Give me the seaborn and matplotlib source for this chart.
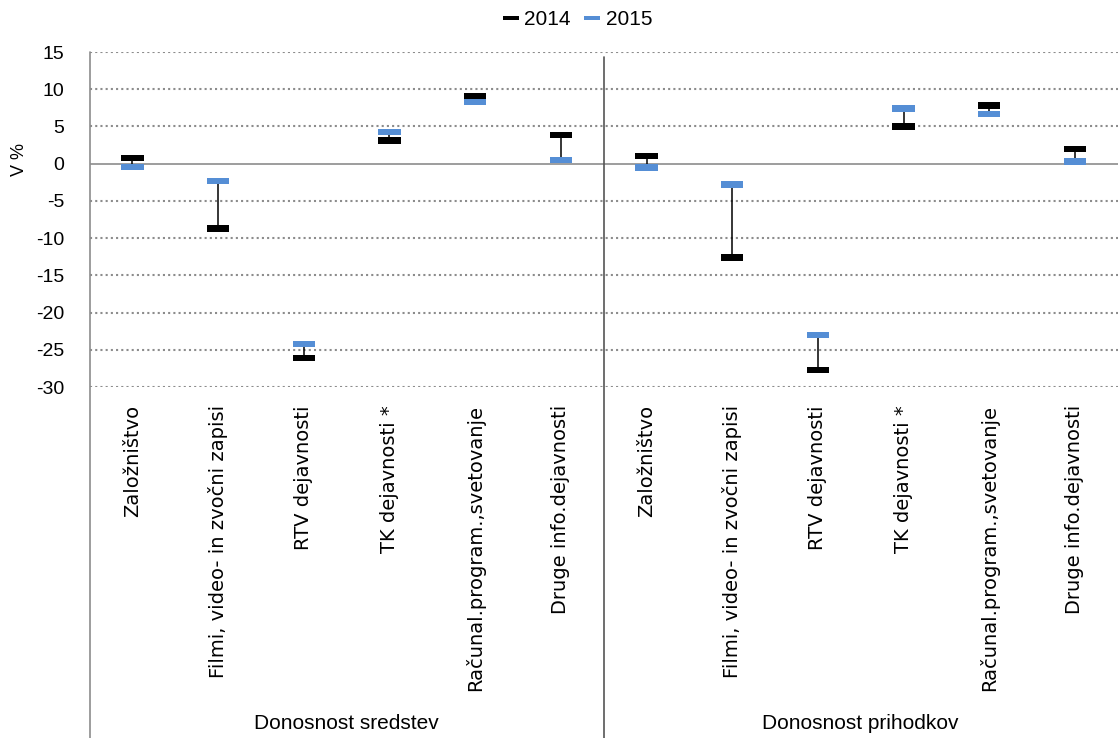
import numpy as np
import pandas as pd
import seaborn as sns
from matplotlib import pyplot as plt
from matplotlib import font_manager
from matplotlib.lines import Line2D

# Podatki
dejavnosti = ["Založništvo", "Filmi, video- in zvočni zapisi", "RTV dejavnosti",
              "TK dejavnosti *", "Računal.program.,svetovanje", "Druge info.dejavnosti"]
skupine = ["Donosnost sredstev", "Donosnost prihodkov"]
leta = ["2014", "2015"]
sredstev_2014 = [0.8, -8.7, -26.1, 3.1, 9.1, 3.9]
sredstev_2015 = [-0.4, -2.3, -24.2, 4.3, 8.3, 0.5]
prihodkov_2014 = [1.0, -12.6, -27.7, 5.0, 7.8, 2.0]
prihodkov_2015 = [-0.5, -2.8, -23.0, 7.4, 6.7, 0.3]

vrednosti_2014 = sredstev_2014 + prihodkov_2014
vrednosti_2015 = sredstev_2015 + prihodkov_2015
oznake = dejavnosti * len(skupine)
pozicije = np.arange(len(oznake))

df = pd.DataFrame({
    "poz": np.concatenate([pozicije, pozicije]),
    "vrednost": vrednosti_2014 + vrednosti_2015,
    "leto": [leta[0]] * len(oznake) + [leta[1]] * len(oznake),
})

sns.set_style("white")
plt.rcParams["font.family"] = ["DejaVu Sans"]
plt.rcParams["axes.unicode_minus"] = False
plt.rcParams["text.color"] = "black"
plt.rcParams["xtick.color"] = "black"
plt.rcParams["ytick.color"] = "black"
plt.rcParams["axes.labelcolor"] = "black"

# ozka pisava, če obstaja
try:
    font_manager.findfont("Liberation Sans Narrow", fallback_to_default=False)
    ozka = "Liberation Sans Narrow"
except Exception:
    ozka = "Liberation Sans"

fig = plt.figure(figsize=(11.2, 7.38), dpi=100)
ax = fig.add_axes([0.080, 0.4756, 0.918, 0.4539])

# Mreža
siva = "#8c8c8c"
for y in range(-30, 16, 5):
    if y == 0:
        ax.axhline(y, color=siva, lw=1.2, zorder=1)
    else:
        ax.axhline(y, color=siva, lw=1.5, ls=(0, (1, 1.5)), zorder=1)

# Navpične črte med letoma
ax.vlines(pozicije, vrednosti_2014, vrednosti_2015, color="black", lw=1.1, zorder=2)

oznaka = [(-1, -0.28), (1, -0.28), (1, 0.28), (-1, 0.28), (-1, -0.28)]
sns.scatterplot(data=df, x="poz", y="vrednost", hue="leto",
                palette={"2014": "black", "2015": "#558ed5"},
                marker=oznaka, s=260, linewidth=0, zorder=3, ax=ax)

ax.set_xlim(-0.5, len(oznake) - 0.5)
ax.set_ylim(-30, 15)
ax.set_yticks(range(-30, 16, 5))
ax.set_xticks(pozicije)
ax.set_xticklabels(oznake, rotation=90, va="top", ha="center", fontsize=14)
for lab in ax.get_yticklabels():
    lab.set_fontfamily(ozka)
    lab.set_fontsize(14)
ax.tick_params(axis="both", length=0)
ax.tick_params(axis="y", pad=18)
ax.tick_params(axis="x", pad=13)
for s in ax.spines.values():
    s.set_visible(False)

ax.set_xlabel("")
ax.set_ylabel("V %", fontsize=13, fontfamily=ozka)
ax.yaxis.set_label_coords(-0.06, 0.68)

# Ločilne črte
trans = ax.get_xaxis_transform()
ax.add_line(Line2D([-0.5, -0.5], [-1.06, 1.0], transform=trans, color=siva, lw=1.2, clip_on=False))
ax.add_line(Line2D([5.5, 5.5], [-1.06, 0.985], transform=trans, color="#555555", lw=1.2, clip_on=False))

for i, sk in enumerate(skupine):
    ax.text(2.5 + 6 * i, -1.005, sk, transform=trans, ha="center", va="center",
            fontsize=15, fontfamily=ozka)

# Legenda
sns.move_legend(ax, "upper center", bbox_to_anchor=(0.515, 1.012), bbox_transform=fig.transFigure,
                ncol=2, frameon=False, title=None, fontsize=15, handletextpad=0.2,
                handlelength=0.9, columnspacing=0.6)
leg = ax.get_legend()
for t in leg.get_texts():
    t.set_fontfamily(ozka)
for h in leg.legend_handles:
    h.set_markersize(11)

fig.savefig("out.png", dpi=100)
